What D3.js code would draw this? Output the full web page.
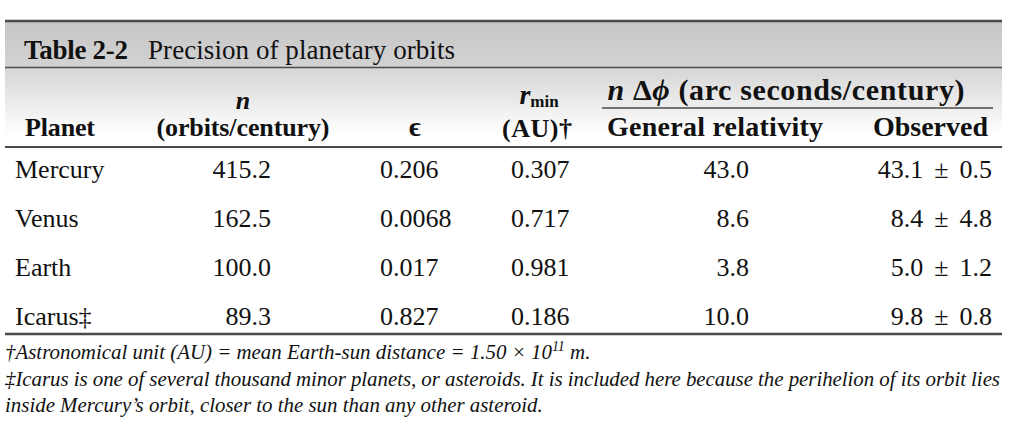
<!DOCTYPE html>
<html>
<head>
<meta charset="utf-8">
<script src="https://cdn.jsdelivr.net/npm/d3@7"></script>
<style>
  body { margin: 0; background: #fff; }
  svg { display: block; }
</style>
</head>
<body>
<div id="chart"></div>
<script>
// table data
const planets = ["Mercury", "Venus", "Earth", "Icarus‡"];
const orbitsPerCentury = [415.2, 162.5, 100.0, 89.3];
const eccentricity = [0.206, 0.0068, 0.017, 0.827];
const rMin = [0.307, 0.717, 0.981, 0.186];
const grPrecession = [43.0, 8.6, 3.8, 10.0];
const observedPrecession = [43.1, 8.4, 5.0, 9.8];
const observedError = [0.5, 4.8, 1.2, 0.8];

const footnotes = [
    "†Astronomical unit (AU) = mean Earth-sun distance = 1.50 × 10",
    "‡Icarus is one of several thousand minor planets, or asteroids. It is included here because the perihelion of its orbit lies",
    "inside Mercury’s orbit, closer to the sun than any other asteroid."
];

const width = 1024;
const height = 442;
const left = 5, right = 1002;
const serif = "'Liberation Serif', 'Times New Roman', serif";
const lineColor = "#4a4a4a";

const svg = d3.select("#chart")
    .append("svg")
    .attr("width", width)
    .attr("height", height);

const defs = svg.append("defs");
const g1 = defs.append("linearGradient").attr("id", "titleGrad")
    .attr("x1", 0).attr("y1", 0).attr("x2", 0).attr("y2", 1);
g1.append("stop").attr("offset", "0%").attr("stop-color", "#c6c6c6");
g1.append("stop").attr("offset", "100%").attr("stop-color", "#d2d2d2");
const g2 = defs.append("linearGradient").attr("id", "headGrad")
    .attr("x1", 0).attr("y1", 0).attr("x2", 0).attr("y2", 1);
g2.append("stop").attr("offset", "0%").attr("stop-color", "#d5d5d5");
g2.append("stop").attr("offset", "85%").attr("stop-color", "#ffffff");

// background bands
svg.append("rect").attr("x", left).attr("y", 21).attr("width", right - left).attr("height", 46)
    .attr("fill", "url(#titleGrad)");
svg.append("rect").attr("x", left).attr("y", 67).attr("width", right - left).attr("height", 80)
    .attr("fill", "url(#headGrad)");

function hline(y, x1, x2, w) {
    svg.append("line")
        .attr("x1", x1).attr("x2", x2)
        .attr("y1", y).attr("y2", y)
        .attr("stroke", lineColor)
        .attr("stroke-width", w);
}
hline(21, left, right, 2.5);
hline(67.5, left, right, 1.5);
hline(108, 602, 993, 1.5);
hline(147, left, right, 2);
hline(334, left, right, 2.5);

function text(str, x, y, opts) {
    opts = opts || {};
    const t = svg.append("text")
        .attr("x", x)
        .attr("y", y)
        .attr("text-anchor", opts.anchor || "start")
        .style("font-family", serif)
        .style("font-size", (opts.size || 26) + "px")
        .style("font-weight", opts.bold ? "bold" : "normal")
        .style("font-style", opts.italic ? "italic" : "normal")
        .style("fill", "#111")
        .text(str);
    if (opts.len) t.attr("textLength", opts.len).attr("lengthAdjust", "spacing");
    return t;
}

// title
text("Table 2-2", 24, 59, {bold: true, size: 27, len: 104});
text("Precision of planetary orbits", 148, 59, {size: 27, len: 307});

// column headers
text("Planet", 25, 136, {bold: true, len: 70});
text("n", 243, 109, {bold: true, italic: true, anchor: "middle"});
text("(orbits/century)", 243, 136, {bold: true, anchor: "middle", len: 173});
text("ϵ", 415, 136, {bold: true, anchor: "middle", size: 28});
const rm = text("", 539, 104, {bold: true, anchor: "middle"});
rm.append("tspan").style("font-style", "italic").style("font-size", "28px").text("r");
rm.append("tspan").attr("dy", 3).style("font-size", "17px").text("min");
text("(AU)†", 537, 137, {bold: true, anchor: "middle", len: 70});
const nd = text("", 786, 100, {bold: true, anchor: "middle", size: 30, len: 357});
nd.append("tspan").style("font-style", "italic").text("n ");
nd.append("tspan").text("Δ");
nd.append("tspan").style("font-style", "italic").text("ϕ");
nd.append("tspan").text(" (arc seconds/century)");
text("General relativity", 715, 136, {bold: true, anchor: "middle", size: 28, len: 216});
text("Observed", 988, 136, {bold: true, anchor: "end", size: 28, len: 115});

// rows
const y = d3.scalePoint().domain(planets).range([178, 325]);
const f1 = d3.format(".1f"), f3 = d3.format(".3f");

planets.forEach((p, i) => {
    const yy = y(p);
    text(p, 15, yy);
    text(f1(orbitsPerCentury[i]), 271, yy, {anchor: "end"});
    text(String(eccentricity[i]), 380, yy);
    text(f3(rMin[i]), 511, yy);
    text(f1(grPrecession[i]), 749, yy, {anchor: "end"});
    const ob = text("", 992, yy, {anchor: "end"});
    ob.append("tspan").text(f1(observedPrecession[i]));
    ob.append("tspan").attr("dx", 11).text("±");
    ob.append("tspan").attr("dx", 11).text(f1(observedError[i]));
});

// footnotes
const fy = [359, 386, 412];
footnotes.forEach((f, i) => {
    const t = text(f, 5, fy[i], {italic: true, size: 20.9});
    if (i === 0) {
        t.append("tspan").attr("dy", -8).style("font-size", "14px").text("11");
        t.append("tspan").attr("dy", 8).text(" m.");
    }
    if (i === 1) t.attr("textLength", 995).attr("lengthAdjust", "spacing");
});
</script>
</body>
</html>
